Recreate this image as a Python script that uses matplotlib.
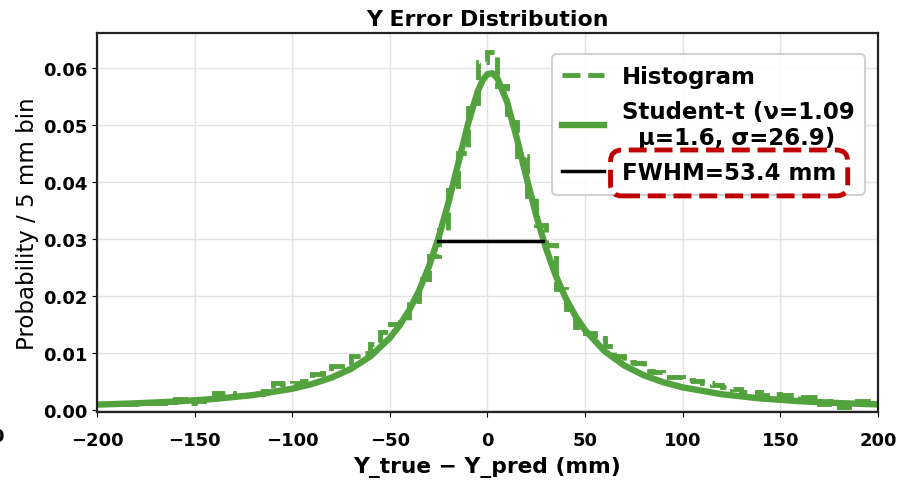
import numpy as np
import matplotlib
matplotlib.use("Agg")
import matplotlib.pyplot as plt

# ---- data ----
bin_edges = np.arange(-200, 205, 5)
hist_vals = [
    0.0010, 0.0010, 0.0011, 0.0011, 0.0012, 0.0012, 0.0013, 0.0014, 0.0019, 0.0012,
    0.0016, 0.0019, 0.0030, 0.0030, 0.0024, 0.0026, 0.0028, 0.0033, 0.0048, 0.0046,
    0.0047, 0.0050, 0.0063, 0.0064, 0.0078, 0.0077, 0.0095, 0.0100, 0.0116, 0.0137,
    0.0150, 0.0155, 0.0191, 0.0230, 0.0270, 0.0316, 0.0385, 0.0450, 0.0530, 0.0610,
    0.0628, 0.0568, 0.0505, 0.0445, 0.0375, 0.0325, 0.0290, 0.0212, 0.0177, 0.0146,
    0.0135, 0.0126, 0.0112, 0.0094, 0.0085, 0.0083, 0.0068, 0.0066, 0.0058, 0.0057,
    0.0052, 0.0050, 0.0048, 0.0043, 0.0040, 0.0037, 0.0032, 0.0032, 0.0027, 0.0028,
    0.0026, 0.0027, 0.0022, 0.0023, 0.0011, 0.0016, 0.0005, 0.0016, 0.0015, 0.0013,
]
fit_x = [-200, -180, -160, -140, -120, -100, -90, -80, -70, -60, -50, -45, -40, -35,
         -30, -25, -20, -15, -10, -5, -2.5, 0, 2.5, 5, 10, 15, 20, 25, 30, 35, 40, 45,
         50, 60, 70, 80, 90, 100, 120, 140, 160, 180, 200]
fit_y = [0.000942, 0.001166, 0.001478, 0.001931, 0.002617, 0.003724, 0.004547,
         0.005657, 0.007198, 0.009396, 0.012639, 0.014836, 0.017560, 0.020945,
         0.025136, 0.030269, 0.036366, 0.043212, 0.050130, 0.055871, 0.05781,
         0.05890, 0.05904, 0.058208, 0.054038, 0.047698, 0.040689, 0.034064,
         0.028308, 0.023527, 0.019642, 0.016511, 0.013992, 0.010295, 0.007815,
         0.006096, 0.004866, 0.003963, 0.002758, 0.002021, 0.001539, 0.001209,
         0.000973]
fwhm_x = [-25.1, 28.3]
fwhm_y = [0.0296, 0.0296]
x_ticks = [-200, -150, -100, -50, 0, 50, 100, 150, 200]
y_ticks = [0.00, 0.01, 0.02, 0.03, 0.04, 0.05, 0.06]

green = '#52a23e'

fig = plt.figure(figsize=(9.02, 4.81), dpi=100)
ax = fig.add_axes([0.1075, 0.1414, 0.8659, 0.7879])

ax.stairs(hist_vals, bin_edges, baseline=None, color=green, lw=3.5, ls='--',
          label='Histogram')
ax.plot(fit_x, fit_y, color=green, lw=4.6,
        label='Student-t (ν=1.09\n  μ=1.6, σ=26.9)')
ax.plot(fwhm_x, fwhm_y, color='black', lw=2.5, label='FWHM=53.4 mm')

ax.set_xlim(-200, 200)
ax.set_ylim(-0.00035, 0.0661)
ax.set_xticks(x_ticks)
ax.set_yticks(y_ticks)
ax.set_xticklabels([f'{t:d}'.replace('-', '−') for t in x_ticks])
ax.set_yticklabels([f'{t:.2f}' for t in y_ticks])
for lab in ax.get_xticklabels() + ax.get_yticklabels():
    lab.set_fontweight('bold')
    lab.set_fontsize(13)
ax.tick_params(axis='x', pad=10)
ax.grid(True, color='#e4e4e4', lw=1.0)
ax.set_axisbelow(True)
for s in ax.spines.values():
    s.set_linewidth(1.6)
    s.set_color('#222222')

ax.set_title('Y Error Distribution', fontsize=15.8, fontweight='bold', pad=6)
ax.set_xlabel('Y_true − Y_pred (mm)', fontsize=15.7, fontweight='bold', labelpad=5)
ax.set_ylabel('Probability / 5 mm bin', fontsize=16.5, labelpad=3)

leg = ax.legend(loc='upper right', bbox_to_anchor=(0.9834, 0.944),
                borderaxespad=0.0,
                prop={'weight': 'bold', 'size': 16.5}, framealpha=0.9,
                handlelength=1.8, labelspacing=0.55, borderpad=0.45,
                handletextpad=0.8)
leg.get_frame().set_edgecolor('#cccccc')
leg.get_frame().set_linewidth(1.5)
for t in leg.get_texts():
    t.set_linespacing(1.15)
leg.get_texts()[2].set_bbox(dict(boxstyle='round,pad=0.5', fc='none',
                                 ec='#c00000', lw=3.5, ls='--'))

fig.text(0.004, 0.091, '0', ha='right', va='center', fontsize=13, fontweight='bold')

fig.savefig('out.png', dpi=100)
